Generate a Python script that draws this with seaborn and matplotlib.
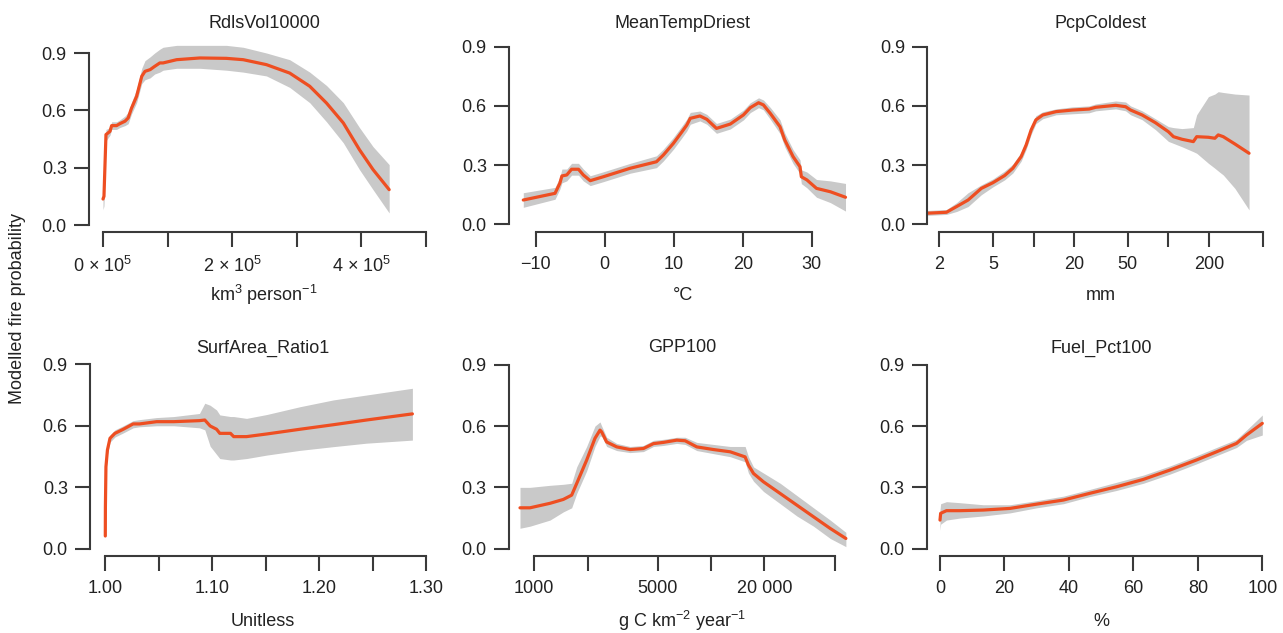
import numpy as np
import pandas as pd
import matplotlib
matplotlib.use("Agg")
import matplotlib.pyplot as plt
import seaborn as sns

# --- data (x, fitted prob, lower / upper band) ---
rdls_x = [0, 1500, 4600, 10800, 13400, 21000, 26000, 34000, 39000, 44000, 52000, 60000, 65000,
          73000, 80000, 88000, 93000, 114000, 150000, 191000, 217000, 253000, 289000, 320000,
          346000, 372000, 397000, 418000, 443000]
rdls_y = [0.136, 0.15, 0.473, 0.49, 0.52, 0.52, 0.53, 0.543, 0.56, 0.61, 0.673, 0.778, 0.804,
          0.813, 0.83, 0.848, 0.848, 0.865, 0.874, 0.872, 0.865, 0.839, 0.795, 0.726,
          0.638, 0.534, 0.394, 0.29, 0.185]
rdls_lo = [0.08, 0.10, 0.44, 0.47, 0.50, 0.50, 0.51, 0.52, 0.53, 0.58, 0.64, 0.74, 0.76,
           0.77, 0.79, 0.80, 0.81, 0.82, 0.82, 0.81, 0.80, 0.78, 0.72, 0.64,
           0.54, 0.43, 0.29, 0.185, 0.063]
rdls_hi = [0.19, 0.22, 0.50, 0.51, 0.54, 0.54, 0.55, 0.57, 0.59, 0.64, 0.71, 0.82, 0.86,
           0.88, 0.90, 0.92, 0.93, 0.94, 0.94, 0.94, 0.93, 0.90, 0.865, 0.80,
           0.73, 0.64, 0.51, 0.41, 0.316]

temp_x = [-11.8, -7.2, -6.5, -6.2, -5.5, -4.8, -3.8, -3.1, -2.1, -0.2, 3.7, 7.5, 8.5, 9.95,
          11.2, 11.9, 12.4, 13.8, 14.8, 16.2, 18.2, 20.1, 21.1, 22.3, 23.0, 24.0, 25.4,
          26.1, 27.3, 28.3, 28.5, 29.3, 30.7, 32.7, 34.9]
temp_y = [0.123, 0.157, 0.208, 0.245, 0.25, 0.279, 0.279, 0.25, 0.221, 0.241, 0.284, 0.317,
          0.351, 0.41, 0.469, 0.503, 0.537, 0.549, 0.532, 0.486, 0.508, 0.554, 0.591, 0.616,
          0.605, 0.562, 0.495, 0.427, 0.343, 0.292, 0.241, 0.225, 0.182, 0.165, 0.137]
temp_lo = [0.086, 0.127, 0.178, 0.210, 0.220, 0.249, 0.249, 0.220, 0.196, 0.216, 0.259, 0.287,
           0.321, 0.380, 0.439, 0.473, 0.507, 0.524, 0.507, 0.461, 0.483, 0.529, 0.566, 0.591,
           0.580, 0.532, 0.460, 0.392, 0.308, 0.257, 0.206, 0.185, 0.137, 0.110, 0.067]
temp_hi = [0.160, 0.187, 0.238, 0.280, 0.280, 0.309, 0.309, 0.280, 0.246, 0.266, 0.309, 0.347,
           0.381, 0.440, 0.499, 0.533, 0.567, 0.574, 0.557, 0.511, 0.533, 0.579, 0.616, 0.641,
           0.630, 0.592, 0.530, 0.462, 0.378, 0.327, 0.276, 0.265, 0.227, 0.220, 0.207]

pcp_x = [1.61, 2.26, 2.69, 3.27, 4.10, 5.0, 6.10, 7.02, 8.09, 8.81, 9.59, 10.4, 11.7, 14.7,
         19.4, 25.8, 28.9, 40.6, 48.1, 52.4, 63.8, 80.0, 100, 109, 126, 153, 162, 198, 221,
         234, 255, 311, 396]
pcp_y = [0.056, 0.061, 0.09, 0.123, 0.182, 0.211, 0.247, 0.284, 0.343, 0.402, 0.478, 0.529,
         0.554, 0.571, 0.579, 0.584, 0.593, 0.603, 0.596, 0.579, 0.554, 0.515, 0.469, 0.444,
         0.431, 0.419, 0.444, 0.441, 0.436, 0.453, 0.444, 0.407, 0.36]
pcp_lo = [0.045, 0.05, 0.065, 0.09, 0.15, 0.19, 0.225, 0.26, 0.32, 0.38, 0.455, 0.51, 0.535,
          0.555, 0.56, 0.565, 0.575, 0.585, 0.575, 0.555, 0.53, 0.48, 0.42, 0.41, 0.393, 0.368,
          0.36, 0.309, 0.284, 0.27, 0.25, 0.182, 0.073]
pcp_hi = [0.07, 0.075, 0.11, 0.16, 0.2, 0.23, 0.27, 0.305, 0.365, 0.425, 0.50, 0.55, 0.57,
          0.585, 0.595, 0.60, 0.61, 0.625, 0.62, 0.60, 0.575, 0.535, 0.495, 0.49, 0.485, 0.49,
          0.555, 0.647, 0.66, 0.672, 0.668, 0.66, 0.655]

surf_x = [1.0, 1.0001, 1.0006, 1.002, 1.0044, 1.009, 1.0168, 1.026, 1.032, 1.048, 1.064, 1.088,
          1.093, 1.098, 1.104, 1.107, 1.117, 1.12, 1.132, 1.151, 1.182, 1.213, 1.244, 1.287]
surf_y = [0.062, 0.205, 0.40, 0.482, 0.539, 0.563, 0.583, 0.609, 0.609, 0.62, 0.62, 0.625,
          0.628, 0.599, 0.583, 0.563, 0.563, 0.547, 0.547, 0.56, 0.583, 0.605, 0.628, 0.658]
surf_lo = [0.03, 0.17, 0.37, 0.46, 0.52, 0.545, 0.565, 0.59, 0.595, 0.60, 0.60, 0.59,
           0.58, 0.50, 0.46, 0.44, 0.433, 0.433, 0.44, 0.457, 0.48, 0.498, 0.515, 0.53]
surf_hi = [0.10, 0.24, 0.43, 0.50, 0.555, 0.58, 0.60, 0.625, 0.63, 0.64, 0.645, 0.66,
           0.71, 0.70, 0.677, 0.653, 0.645, 0.645, 0.636, 0.655, 0.693, 0.726, 0.75, 0.783]

gpp_x = [830, 945, 1227, 1459, 1627, 1737, 1977, 2204, 2353, 2405, 2566, 2924, 3480, 4140,
         4718, 5376, 6396, 7126, 8298, 10310, 12820, 15570, 16260, 17370, 19780, 24590,
         30550, 37950, 47180, 57840]
gpp_y = [0.2, 0.2, 0.222, 0.241, 0.262, 0.319, 0.433, 0.54, 0.58, 0.571, 0.522, 0.498, 0.485,
         0.49, 0.514, 0.52, 0.531, 0.528, 0.498, 0.485, 0.474, 0.449, 0.409, 0.368, 0.327,
         0.27, 0.213, 0.156, 0.099, 0.05]
gpp_lo = [0.10, 0.11, 0.14, 0.18, 0.20, 0.27, 0.38, 0.50, 0.55, 0.55, 0.50, 0.48, 0.47,
          0.475, 0.50, 0.505, 0.515, 0.51, 0.48, 0.465, 0.45, 0.425, 0.37, 0.33, 0.28,
          0.22, 0.16, 0.11, 0.05, 0.01]
gpp_hi = [0.30, 0.30, 0.31, 0.315, 0.32, 0.40, 0.50, 0.60, 0.62, 0.60, 0.545, 0.515, 0.50,
          0.505, 0.53, 0.535, 0.545, 0.545, 0.52, 0.51, 0.50, 0.50, 0.45, 0.40, 0.37,
          0.32, 0.26, 0.20, 0.14, 0.08]

fuel_x = [0, 0.2, 2, 6.2, 13.4, 21.7, 30, 38.3, 46.5, 54.8, 63.1, 71.4, 79.6, 85.8, 92, 95.1, 100]
fuel_y = [0.14, 0.173, 0.186, 0.186, 0.189, 0.197, 0.218, 0.238, 0.271, 0.303, 0.339, 0.385,
          0.434, 0.474, 0.515, 0.556, 0.613]
fuel_lo = [0.09, 0.12, 0.14, 0.15, 0.16, 0.175, 0.20, 0.22, 0.255, 0.285, 0.32, 0.365,
           0.415, 0.455, 0.495, 0.53, 0.556]
fuel_hi = [0.19, 0.22, 0.23, 0.225, 0.215, 0.215, 0.235, 0.257, 0.29, 0.325, 0.36, 0.405,
           0.455, 0.495, 0.535, 0.58, 0.654]

titles = ["RdlsVol10000", "MeanTempDriest", "PcpColdest",
          "SurfArea_Ratio1", "GPP100", "Fuel_Pct100"]
xlabels = [r"km$^{3}$ person$^{-1}$", "°C", "mm",
           "Unitless", r"g C km$^{-2}$ year$^{-1}$", "%"]
xticks = [[0, 1e5, 2e5, 3e5, 4e5, 5e5],
          [-10, 0, 10, 20, 30],
          [2, 5, 10, 20, 50, 100, 200, 500],
          [1.00, 1.05, 1.10, 1.15, 1.20, 1.25, 1.30],
          [1000, 2000, 5000, 10000, 20000, 50000],
          [0, 20, 40, 60, 80, 100]]
xticklabels = [["0 × 10$^{5}$", "", "2 × 10$^{5}$", "", "4 × 10$^{5}$", ""],
               ["\u221210", "0", "10", "20", "30"],
               ["2", "5", "", "20", "50", "", "200", ""],
               ["1.00", "", "1.10", "", "1.20", "", "1.30"],
               ["1000", "", "5000", "", "20 000", ""],
               ["0", "20", "40", "60", "80", "100"]]
yticks = [0.0, 0.3, 0.6, 0.9]
yticklabels = ["0.0", "0.3", "0.6", "0.9"]

series = [(rdls_x, rdls_y, rdls_lo, rdls_hi), (temp_x, temp_y, temp_lo, temp_hi),
          (pcp_x, pcp_y, pcp_lo, pcp_hi), (surf_x, surf_y, surf_lo, surf_hi),
          (gpp_x, gpp_y, gpp_lo, gpp_hi), (fuel_x, fuel_y, fuel_lo, fuel_hi)]

# pixel layout: left spine x, x-axis y, first/last x tick px, y=0 px, y=0.9 px, right, top, log?
layout = [
    (89, 232, 103, 426, 225, 53, 430, 35, False),
    (509, 232, 535.7, 811.7, 224.3, 46.7, 848, 35, False),
    (927.3, 232, 939.3, 1262.7, 224.3, 46.7, 1266, 35, True),
    (90, 556, 105.3, 426.3, 548.7, 364.3, 430, 355, False),
    (508.7, 556, 534.3, 834.7, 548.7, 364.7, 848, 355, True),
    (926.7, 556, 940, 1262.3, 548.7, 364.7, 1266, 355, False),
]
title_pos = [(264, 23), (683, 23), (1101, 23), (263, 348), (682, 348), (1101, 348)]
xlabel_pos = [(264, 295), (683, 295), (1101, 295), (263, 621), (682, 621), (1101, 621)]

sns.set_theme(style="ticks")
plt.rcParams["font.family"] = ["Liberation Sans", "DejaVu Sans"]
plt.rcParams["mathtext.fontset"] = "custom"
plt.rcParams["mathtext.rm"] = "Liberation Sans"
plt.rcParams["mathtext.it"] = "Liberation Sans"

W, H = 1283, 633
fig = plt.figure(figsize=(W / 100, H / 100), dpi=100)

line_col = "#EE4E21"
band_col = "#C9C9C9"
axis_col = "#3A3A3A"
fs = 13

for i, (x, y, lo, hi) in enumerate(series):
    sx, ay, t0, t1, y0, y9, right, top, logx = layout[i]
    ticks = xticks[i]
    ax = fig.add_axes([sx / W, (H - ay) / H, (right - sx) / W, (ay - top) / H])

    # x limits worked out from where the end ticks sit
    v0, v1 = ticks[0], ticks[-1]
    if logx:
        v0, v1 = np.log10(v0), np.log10(v1)
    k = (t1 - t0) / (v1 - v0)
    xl, xr = v0 - (t0 - sx) / k, v0 + (right - t0) / k
    if logx:
        ax.set_xscale("log")
        xl, xr = 10 ** xl, 10 ** xr
    ky = (y0 - y9) / 0.9
    ax.set_xlim(xl, xr)
    ax.set_ylim(-(ay - y0) / ky, (y0 - top) / ky)

    df = pd.DataFrame({"x": x, "y": y, "lo": lo, "hi": hi})
    ax.fill_between(df["x"], df["lo"], df["hi"], color=band_col, lw=0)
    sns.lineplot(data=df, x="x", y="y", ax=ax, color=line_col, lw=2.3, sort=False)

    ax.spines["top"].set_visible(False)
    ax.spines["right"].set_visible(False)
    ax.spines["left"].set_bounds(0, 0.9)
    ax.spines["bottom"].set_bounds(ticks[0], ticks[-1])
    for s in ("left", "bottom"):
        ax.spines[s].set_color(axis_col)
        ax.spines[s].set_linewidth(1.5)

    ax.set_yticks(yticks)
    ax.set_yticklabels(yticklabels)
    ax.set_xticks(ticks)
    ax.set_xticklabels(xticklabels[i])
    ax.xaxis.set_minor_locator(matplotlib.ticker.NullLocator())
    ax.tick_params(axis="both", direction="out", length=11, width=1.5, color=axis_col,
                   labelsize=fs, labelcolor="#222222")
    ax.tick_params(axis="x", pad=6)
    ax.tick_params(axis="y", pad=5)
    ax.set_xlabel("")
    ax.set_ylabel("")
    ax.patch.set_alpha(0)

    tx, ty = title_pos[i]
    fig.text(tx / W, 1 - ty / H, titles[i], ha="center", va="center", fontsize=fs, color="#222222")
    lx, ly = xlabel_pos[i]
    fig.text(lx / W, 1 - ly / H, xlabels[i], ha="center", va="center", fontsize=fs, color="#222222")

fig.text(18 / W, 1 - 308 / H, "Modelled fire probability", rotation=90,
         ha="center", va="center", fontsize=fs, color="#222222")

fig.savefig("out.png", dpi=100)
